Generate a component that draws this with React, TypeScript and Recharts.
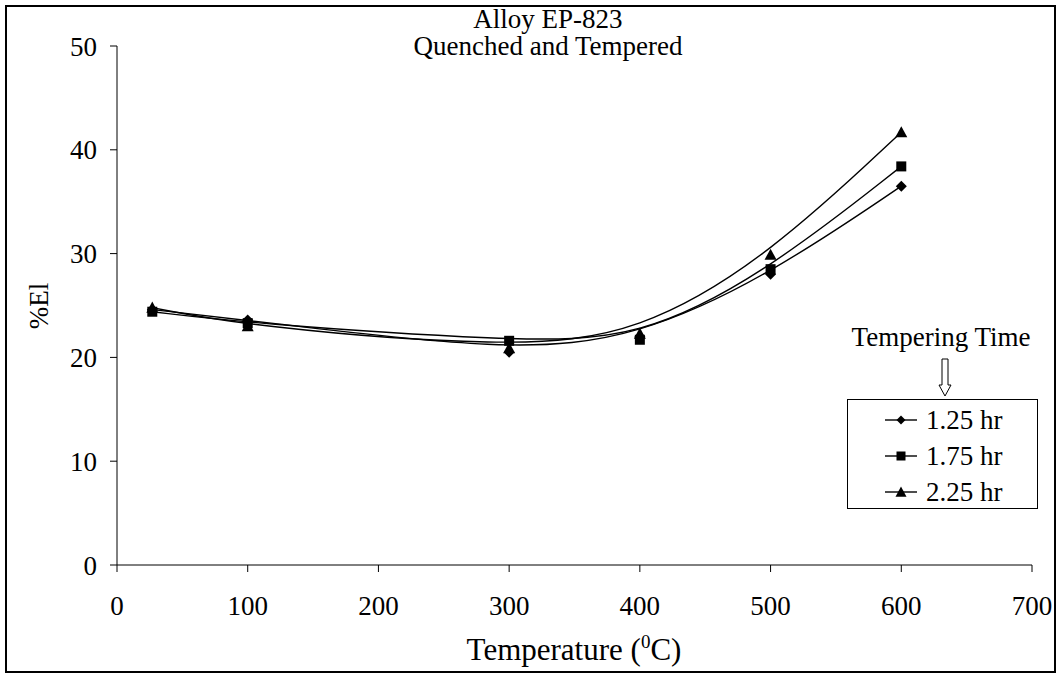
import React from 'react';
import { LineChart, Line, XAxis, YAxis } from 'recharts';

const temperatures = [27, 100, 300, 400, 500, 600];
const elong125 = [24.6, 23.6, 20.5, 22.0, 28.0, 36.5];
const elong175 = [24.4, 23.3, 21.6, 21.7, 28.5, 38.4];
const elong225 = [24.8, 23.0, 20.9, 22.3, 29.9, 41.7];
const seriesNames = ['1.25 hr', '1.75 hr', '2.25 hr'];
const xTicks = [0, 100, 200, 300, 400, 500, 600, 700];
const yTicks = [0, 10, 20, 30, 40, 50];

const data = temperatures.map((t, i) => ({
  t,
  a: elong125[i],
  b: elong175[i],
  c: elong225[i],
}));

const FONT = '"Liberation Serif", "Times New Roman", serif';

const Diamond = ({ cx, cy, r = 5.5 }: any) => (
  <polygon points={`${cx},${cy - r} ${cx + r},${cy} ${cx},${cy + r} ${cx - r},${cy}`} fill="#000" />
);
const Square = ({ cx, cy, r = 5 }: any) => (
  <rect x={cx - r} y={cy - r} width={2 * r} height={2 * r} fill="#000" />
);
const Triangle = ({ cx, cy, r = 6 }: any) => (
  <polygon points={`${cx},${cy - r} ${cx + r},${cy + r * 0.85} ${cx - r},${cy + r * 0.85}`} fill="#000" />
);

const markers = [Diamond, Square, Triangle];
const keys = ['a', 'b', 'c'];

export default function App() {
  return (
    <div style={{ position: 'absolute', left: 0, top: 0, width: 1063, height: 679, background: '#fff', fontFamily: FONT }}>
      <LineChart
        width={1063}
        height={679}
        data={data}
        margin={{ top: 46, right: 31, bottom: 74, left: 37 }}
      >
        <XAxis
          dataKey="t"
          type="number"
          domain={[0, 700]}
          ticks={xTicks}
          interval={0}
          height={40}
          stroke="#000"
          tickSize={7}
          tickMargin={24}
          tick={{ fill: '#000', fontSize: 27, fontFamily: FONT }}
        />
        <YAxis
          type="number"
          domain={[0, 50]}
          ticks={yTicks}
          interval={0}
          width={80}
          stroke="#000"
          tickSize={7}
          tickMargin={13}
          tick={{ fill: '#000', fontSize: 27, fontFamily: FONT }}
        />
        {keys.map((k, si) => {
          const M = markers[si];
          return (
            <Line
              key={k}
              dataKey={k}
              name={seriesNames[si]}
              type="basis"
              stroke="#000"
              strokeWidth={1.4}
              isAnimationActive={false}
              dot={(p: any) => <M key={`${k}-${p.index}`} cx={p.cx} cy={p.cy} />}
              activeDot={false}
            />
          );
        })}
      </LineChart>
      <svg
        width={1063}
        height={679}
        style={{ position: 'absolute', left: 0, top: 0, pointerEvents: 'none' }}
        fontFamily={FONT}
      >
        <rect x={6} y={6} width={1049} height={666} fill="none" stroke="#000" strokeWidth={2} />
        <text x={548} y={28} textAnchor="middle" fontSize={27} fill="#000">Alloy EP-823</text>
        <text x={548} y={55} textAnchor="middle" fontSize={27} fill="#000">Quenched and Tempered</text>
        <text
          x={39}
          y={306}
          textAnchor="middle"
          dominantBaseline="central"
          fontSize={27}
          fill="#000"
          transform="rotate(-90 39 306)"
        >%El</text>
        <text x={574} y={660} textAnchor="middle" fontSize={31} fill="#000">
          Temperature (<tspan fontSize={19} dy={-12}>0</tspan><tspan dy={12}>C)</tspan>
        </text>
        <text x={941} y={346} textAnchor="middle" fontSize={27} fill="#000">Tempering Time</text>
        <polygon
          points="942,359 948,359 948,385 951,385 945,396 939,385 942,385"
          fill="#fff"
          stroke="#000"
          strokeWidth={1}
        />
        <rect x={847.5} y={399.5} width={190} height={109} fill="#fff" stroke="#000" strokeWidth={1} />
        {seriesNames.map((name, i) => {
          const M = markers[i];
          const cy = 420 + i * 36;
          return (
            <g key={name}>
              <line x1={885} x2={917} y1={cy} y2={cy} stroke="#000" strokeWidth={1.4} />
              <M cx={901} cy={cy} r={i === 2 ? 5.5 : 4.5} />
              <text x={926} y={cy + 9} fontSize={27} fill="#000">{name}</text>
            </g>
          );
        })}
      </svg>
    </div>
  );
}
